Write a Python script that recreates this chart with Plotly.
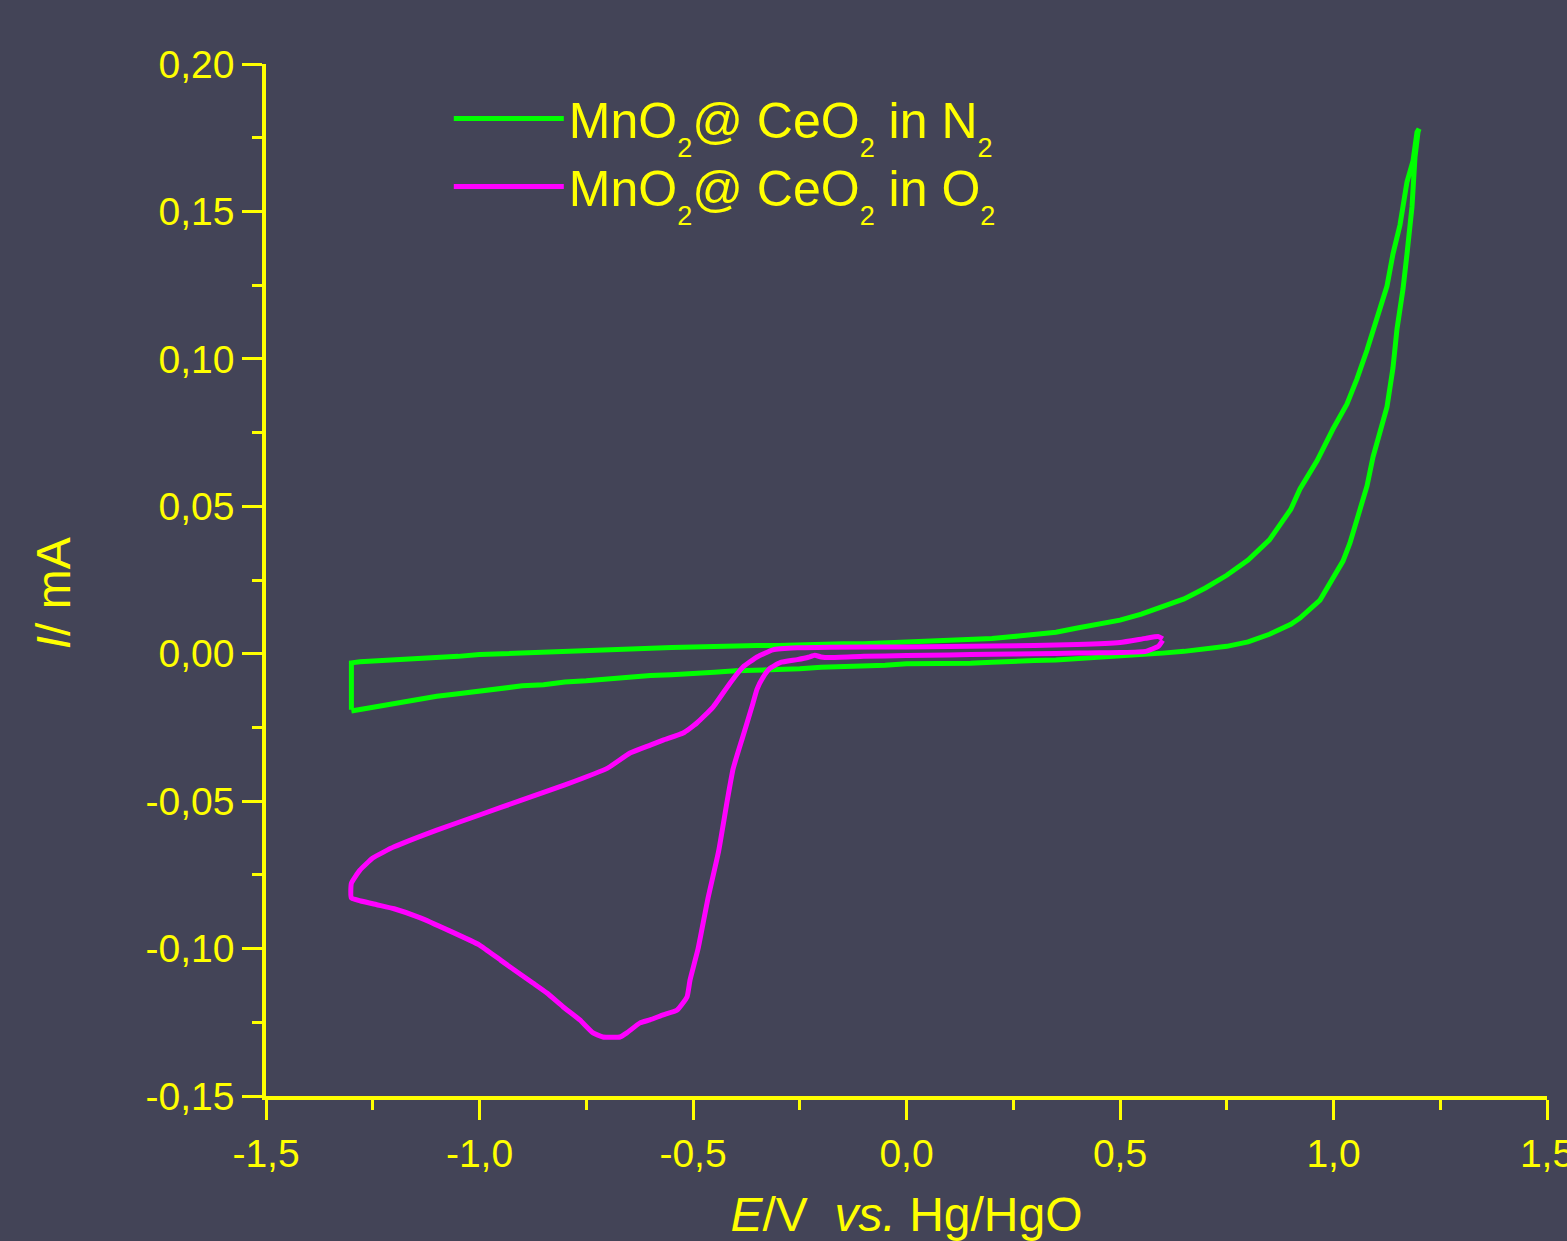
import plotly.graph_objects as go

# ---------------- data ----------------
n2_e = [-1.300, -1.300, -1.300, -1.280, -1.250, -1.200, -1.150, -1.100, -1.050, -1.000,
        -0.950, -0.900, -0.850, -0.800, -0.750, -0.700, -0.650, -0.600, -0.550, -0.500,
        -0.450, -0.400, -0.350, -0.300, -0.250, -0.200, -0.150, -0.100, -0.050, 0.000,
        0.050, 0.100, 0.150, 0.200, 0.250, 0.300, 0.350, 0.400, 0.450, 0.500,
        0.550, 0.600, 0.650, 0.700, 0.750, 0.800, 0.850, 0.900, 0.9215, 0.9614,
        0.9988, 1.0316, 1.0550, 1.0785, 1.1019, 1.1253, 1.1393, 1.1557, 1.1721, 1.1862,
        1.1956, 1.2003,
        1.1980, 1.1909, 1.1838, 1.1721, 1.1628, 1.1487, 1.1393, 1.1253, 1.1089, 1.0925,
        1.0785, 1.0574, 1.0386, 1.0222, 0.9988, 0.9684, 0.9215, 0.900, 0.850, 0.800,
        0.750, 0.700, 0.650, 0.600, 0.550, 0.500, 0.450, 0.400, 0.350, 0.300,
        0.250, 0.200, 0.150, 0.100, 0.050, 0.000, -0.050, -0.100, -0.150, -0.200,
        -0.250, -0.300, -0.350, -0.400, -0.450, -0.500, -0.550, -0.600, -0.650, -0.700,
        -0.750, -0.800, -0.850, -0.900, -0.950, -1.000, -1.050, -1.100, -1.150, -1.200,
        -1.250, -1.300]
n2_i = [-0.0190, -0.0100, -0.0031, -0.0027, -0.0025, -0.0021, -0.0019, -0.0012, -0.0009, -0.0003,
        0.0000, 0.0004, 0.0005, 0.0009, 0.0011, 0.0013, 0.0017, 0.0018, 0.0021, 0.0023,
        0.0026, 0.0026, 0.0028, 0.0028, 0.0031, 0.0030, 0.0034, 0.0034, 0.0037, 0.0039,
        0.0043, 0.0044, 0.0049, 0.0052, 0.0058, 0.0064, 0.0073, 0.0087, 0.0099, 0.0114,
        0.0134, 0.0158, 0.0186, 0.0223, 0.0266, 0.0318, 0.0386, 0.0490, 0.0559, 0.0654,
        0.0762, 0.0847, 0.0932, 0.1030, 0.1139, 0.1247, 0.1356, 0.1454, 0.1600, 0.1671,
        0.1769, 0.1780,
        0.1770, 0.1685, 0.1515, 0.1356, 0.1237, 0.1101, 0.0969, 0.0837, 0.0752, 0.0667,
        0.0569, 0.0460, 0.0376, 0.0314, 0.0253, 0.0182, 0.0121, 0.0100, 0.0066, 0.0040,
        0.0025, 0.0015, 0.0008, 0.0002, -0.0003, -0.0008, -0.0013, -0.0015, -0.0021, -0.0023,
        -0.0028, -0.0029, -0.0032, -0.0032, -0.0035, -0.0034, -0.0039, -0.0040, -0.0045, -0.0046,
        -0.0051, -0.0052, -0.0057, -0.0058, -0.0063, -0.0065, -0.0071, -0.0074, -0.0081, -0.0084,
        -0.0092, -0.0096, -0.0105, -0.0109, -0.0119, -0.0125, -0.0136, -0.0144, -0.0157, -0.0167,
        -0.0181, -0.0194]

o2_e = [0.600, 0.590, 0.560, 0.500, 0.450, 0.400, 0.300, 0.200, 0.100, 0.000,
        -0.100, -0.179, -0.200, -0.215, -0.230, -0.256, -0.296, -0.320, -0.336, -0.350,
        -0.360, -0.383, -0.406, -0.420, -0.440, -0.465, -0.488, -0.507, -0.514, -0.537,
        -0.570, -0.601, -0.624, -0.655, -0.671, -0.711, -0.734, -0.765, -0.804, -0.842,
        -0.875, -0.950, -1.000, -1.070, -1.140, -1.200, -1.250, -1.300,
        -1.300, -1.280, -1.250, -1.200, -1.100, -1.000, -0.900, -0.800, -0.700, -0.6475,
        -0.600, -0.570, -0.523, -0.491, -0.453, -0.413, -0.383, -0.350, -0.313, -0.256,
        -0.179, 0.000, 0.200, 0.400, 0.500, 0.560, 0.590, 0.600]
o2_i = [0.0045, 0.0025, 0.0008, 0.0004, 0.0003, 0.0002, 0.0000, -0.0002, -0.0004, -0.0006,
        -0.0009, -0.0013, -0.0011, -0.0005, -0.0012, -0.0020, -0.0030, -0.0050, -0.0080, -0.0120,
        -0.0170, -0.0280, -0.0390, -0.0500, -0.0670, -0.0830, -0.1000, -0.1107, -0.1164, -0.1208,
        -0.1225, -0.1242, -0.1252, -0.1286, -0.1300, -0.1300, -0.1286, -0.1242, -0.1198, -0.1151,
        -0.1117, -0.1040, -0.0988, -0.0940, -0.0895, -0.0865, -0.0848, -0.0828,
        -0.0778, -0.0734, -0.0693, -0.0655, -0.0598, -0.0547, -0.0496, -0.0445, -0.0388, -0.0337,
        -0.0310, -0.0293, -0.0269, -0.0235, -0.0181, -0.0099, -0.0045, -0.0011, 0.0013, 0.0020,
        0.0022, 0.0023, 0.0026, 0.0031, 0.0038, 0.0052, 0.0058, 0.0050]

x_tickvals = [-1.5, -1.0, -0.5, 0.0, 0.5, 1.0, 1.5]
x_ticktext = ["-1,5", "-1,0", "-0,5", "0,0", "0,5", "1,0", "1,5"]
y_tickvals = [-0.15, -0.10, -0.05, 0.00, 0.05, 0.10, 0.15, 0.20]
y_ticktext = ["-0,15", "-0,10", "-0,05", "0,00", "0,05", "0,10", "0,15", "0,20"]

SUB = '<span style="font-size:27px;baseline-shift:-19px">2</span>'
n2_name = "MnO" + SUB + "@ CeO" + SUB + " in N" + SUB
o2_name = "MnO" + SUB + "@ CeO" + SUB + " in O" + SUB

# ---------------- style ----------------
BG = "#434457"
YEL = "#FFFF00"
FONT = "Liberation Sans, Arial, sans-serif"

fig = go.Figure()
fig.add_trace(go.Scatter(x=n2_e, y=n2_i, mode="lines", name=n2_name,
                         line=dict(color="#00FF00", width=5)))
fig.add_trace(go.Scatter(x=o2_e, y=o2_i, mode="lines", name=o2_name,
                         line=dict(color="#FF00FF", width=5, shape="spline", smoothing=0.4)))

axis_common = dict(
    showline=True, linecolor=YEL, linewidth=3.5,
    ticks="outside", ticklen=20, tickwidth=3, tickcolor=YEL,
    showgrid=False, zeroline=False, automargin=False,
    ticklabeloverflow="allow",
    tickfont=dict(family=FONT, size=39, color=YEL),
    tickmode="array",
)

fig.update_layout(
    width=1567, height=1241,
    paper_bgcolor=BG, plot_bgcolor=BG,
    margin=dict(l=266, r=20, t=64, b=145, pad=0, autoexpand=False),
    font=dict(family=FONT, color=YEL),
    showlegend=True,
    legend=dict(x=0.1427, y=0.985, xanchor="left", yanchor="top",
                bgcolor="rgba(0,0,0,0)", borderwidth=0,
                font=dict(family=FONT, size=50, color=YEL),
                itemwidth=110, tracegroupgap=0),
    xaxis=dict(**axis_common, range=[-1.5, 1.5],
               tickvals=x_tickvals, ticktext=x_ticktext,
               minor=dict(tickmode="linear", tick0=0, dtick=0.25, ticklen=10,
                          tickwidth=3, tickcolor=YEL, ticks="outside"),
               title=dict(text="<i>E</i>/V  <i>vs.</i> Hg/HgO",
                          font=dict(family=FONT, size=48, color=YEL), standoff=40)),
    yaxis=dict(**axis_common, range=[-0.15, 0.20],
               tickvals=y_tickvals, ticktext=y_ticktext,
               minor=dict(tickmode="linear", tick0=0, dtick=0.025, ticklen=10,
                          tickwidth=3, tickcolor=YEL, ticks="outside"),
               title=dict(text="<i>I</i>/ mA&nbsp;&nbsp;",
                          font=dict(family=FONT, size=48, color=YEL), standoff=61)),
)

fig.write_html("out.html",
               config={"displayModeBar": False},
               post_script="document.body.style.margin='0';"
                           "document.body.style.background='#434457';")
